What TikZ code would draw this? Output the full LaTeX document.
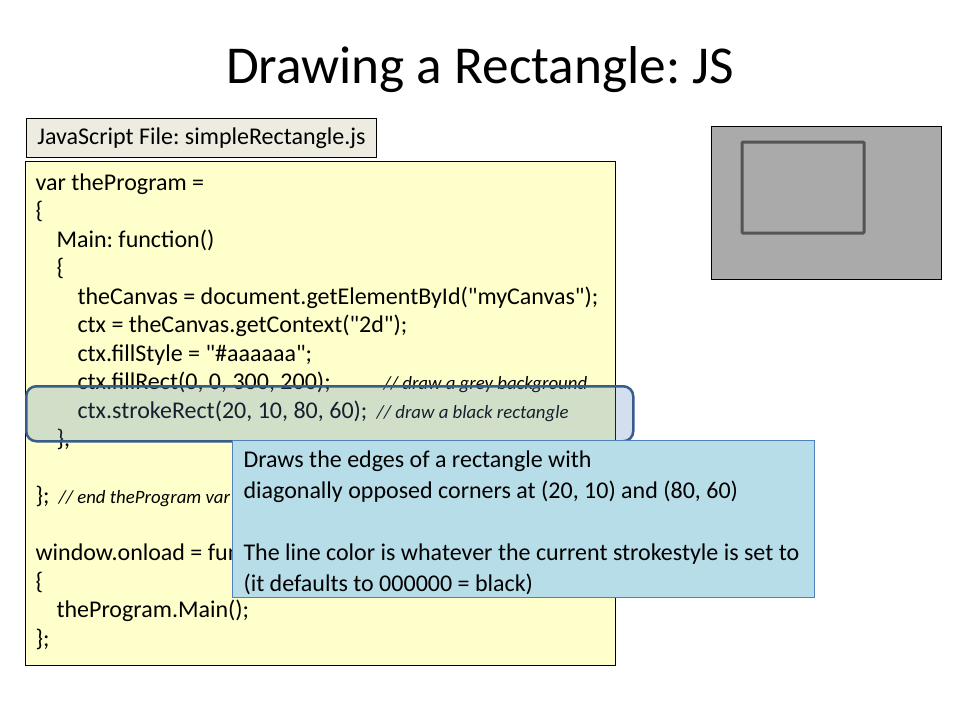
\documentclass[tikz,border=0pt]{standalone}
\usepackage{fontspec}
\setmainfont{Carlito}[Ligatures=TeXOff]
\usetikzlibrary{positioning}
\definecolor{codeYellow}{HTML}{FFFFCC}
\definecolor{labelTan}{HTML}{EEECE1}
\definecolor{noteBlue}{HTML}{B7DDE8}
\definecolor{noteEdge}{HTML}{4F81BD}
\definecolor{markEdge}{HTML}{385D8A}
\definecolor{canvasGrey}{HTML}{AAAAAA}
\newcommand{\codeSize}{\fontsize{24}{28}\selectfont}
\newcommand{\remarkSize}{\fontsize{18.8}{22}\selectfont\itshape}
\frenchspacing

\begin{document}
\begin{tikzpicture}[x=1pt, y=-1pt, line width=1pt,
	codebox/.style={draw, fill=codeYellow, anchor=north west, inner sep=0pt},
	codeline/.style={anchor=base west, inner sep=0pt, font=\codeSize},
	remark/.style={anchor=base west, inner sep=0pt, font=\remarkSize},
	noteline/.style={anchor=base west, inner sep=0pt, font=\codeSize},
	filelabel/.style={draw, fill=labelTan, anchor=north west, inner sep=0pt, font=\codeSize},
	marker/.style={draw=markEdge, line width=2.5pt, fill=noteEdge, fill opacity=0.25, rounded corners=10pt, anchor=north west, inner sep=0pt},
	notebox/.style={draw=noteEdge, fill=noteBlue, anchor=north west, inner sep=0pt}]
	\useasboundingbox (0,0) rectangle (960,720);
	\node[anchor=base, font=\fontsize{53.3}{64}\selectfont] (title) at (480,83) {Drawing a Rectangle: JS};
	\node[filelabel, minimum width=350pt, minimum height=39pt] (file) at (26,118) {JavaScript File: simpleRectangle.js};
	%code listing
	\node[codebox, minimum width=590pt, minimum height=504pt] (code) at (25,161) {};
		\node[codeline] (ln1) at (35,190) {var theProgram =};
		\node[codeline] (ln2) at (35,218.5) {\{};
		\node[codeline] (ln3) at (56,247) {Main: function()};
		\node[codeline] (ln4) at (56,275.5) {\{};
		\node[codeline] (ln5) at (77,304) {theCanvas = document.getElementById("myCanvas");};
		\node[codeline] (ln6) at (77,332.5) {ctx = theCanvas.getContext("2d");};
		\node[codeline] (ln7) at (77,361) {ctx.fillStyle = "\#aaaaaa";};
		\node[codeline] (ln8) at (77,389.5) {ctx.fillRect(0, 0, 300, 200);};
		\node[remark] (rm8) at (383,389.5) {// draw a grey background};
		\node[codeline] (ln9) at (77,418) {ctx.strokeRect(20, 10, 80, 60);};
		\node[remark] (rm9) at (376,418) {// draw a black rectangle};
		\node[codeline] (ln10) at (56,446.5) {\},};
		\node[codeline] (ln12) at (35,503.5) {\};};
		\node[remark] (rm12) at (58,503.5) {// end theProgram var};
		\node[codeline] (ln14) at (35,560.5) {window.onload = function()};
		\node[codeline] (ln15) at (35,589) {\{};
		\node[codeline] (ln16) at (56,617.5) {theProgram.Main();};
		\node[codeline] (ln17) at (35,646) {\};};
	%highlight and note
	\node[marker, minimum width=607pt, minimum height=55pt] (mark) at (25,385) {};
	\node[notebox, minimum width=582pt, minimum height=157pt] (note) at (232,440) {};
		\node[noteline] (nt1) at (243,467) {Draws the edges of a rectangle with};
		\node[noteline] (nt2) at (243,498) {diagonally opposed corners at (20, 10) and (80, 60)};
		\node[noteline] (nt3) at (243,560) {The line color is whatever the current strokestyle is set to};
		\node[noteline] (nt4) at (243,591) {(it defaults to 000000 = black)};
	%rendered canvas
	\node[draw, fill=canvasGrey, anchor=north west, minimum width=230pt, minimum height=153pt, inner sep=0pt] (canvas) at (711,126) {};
	\draw[draw=black!67, line width=3pt, rounded corners=1pt] (742,142) rectangle (864,233);
\end{tikzpicture}
\end{document}
